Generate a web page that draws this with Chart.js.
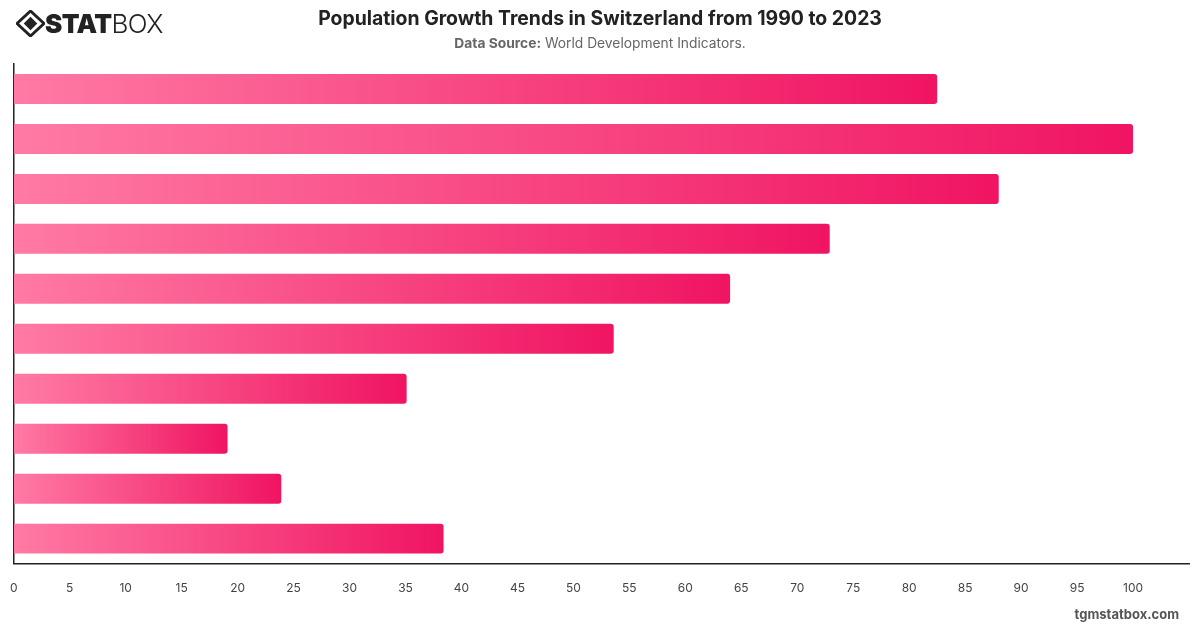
<!DOCTYPE html>
<html>
<head>
<meta charset="utf-8">
<script src="https://cdn.jsdelivr.net/npm/chart.js@4/dist/chart.umd.min.js"></script>
<style>
  body { margin: 0; background: #fff; font-family: Inter, "Liberation Sans", sans-serif; }
  #wrap { position: relative; width: 1200px; height: 628px; }
  #logo { position: absolute; left: 16px; top: 8px; display: flex; align-items: center; font-size: 26px; color: #222; letter-spacing: -0.6px; }
  #logo b { font-weight: 900; }
  #logo span { font-weight: 300; }
  #title { position: absolute; left: 0; width: 1200px; top: 6px; text-align: center; font-size: 19.4px; font-weight: 700; color: #222; }
  #sub { position: absolute; left: 0; width: 1200px; top: 35px; text-align: center; font-size: 13.8px; color: #666; }
  #sub b { font-weight: 700; }
  #foot { position: absolute; right: 21px; top: 606px; font-size: 13px; font-weight: 700; color: #555; }
  canvas { position: absolute; left: 0; top: 0; }
</style>
</head>
<body>
<div id="wrap">
  <canvas id="chart" width="1200" height="628"></canvas>
  <div id="logo">
    <svg width="29" height="27" viewBox="0 0 30 28">
      <path d="M15 1 L29 14 L15 27 L1 14 Z" fill="none" stroke="#222" stroke-width="3"/>
      <path d="M15 7 L22 14 L15 21 L8 14 Z" fill="#222"/>
    </svg>
    <b>STAT</b><span>BOX</span>
  </div>
  <div id="title">Population Growth Trends in Switzerland from 1990 to 2023</div>
  <div id="sub"><b>Data Source:</b> World Development Indicators.</div>
  <div id="foot">tgmstatbox.com</div>
</div>
<script>
const years = ["2023", "2020", "2016", "2013", "2010", "2006", "2003", "2000", "1996", "1993"];
const values = [82.5, 100, 88, 72.9, 64, 53.6, 35.1, 19.1, 23.9, 38.4];

function barGradient(context) {
  const chart = context.chart;
  const area = chart.chartArea;
  if (!area || context.raw === undefined) return "rgb(245, 60, 125)";
  const x0 = chart.scales.x.getPixelForValue(0);
  const x1 = chart.scales.x.getPixelForValue(context.raw);
  const g = chart.ctx.createLinearGradient(x0, 0, x1, 0);
  g.addColorStop(0, "rgb(255, 122, 164)");
  g.addColorStop(1, "rgb(240, 20, 98)");
  return g;
}

new Chart(document.getElementById("chart"), {
  type: "bar",
  data: {
    labels: years,
    datasets: [
      {
        data: values,
        backgroundColor: barGradient,
        borderRadius: 3,
        borderSkipped: "start",
        barPercentage: 0.6,
        categoryPercentage: 1,
      },
    ],
  },
  options: {
    indexAxis: "y",
    responsive: false,
    animation: false,
    layout: { padding: { top: 64, left: 0, right: 11, bottom: 22 } },
    plugins: { legend: { display: false }, tooltip: { enabled: false } },
    scales: {
      x: {
        min: 0,
        max: 105,
        grid: { display: false },
        border: { display: true, color: "#222", width: 1.5 },
        ticks: {
          stepSize: 5,
          padding: 10,
          color: "#444",
          font: { size: 12, family: "Inter" },
          callback: (v) => (v > 100 ? "" : v),
        },
      },
      y: {
        grid: { display: false },
        border: { display: true, color: "#222", width: 1.5 },
        ticks: { display: false },
      },
    },
  },
});
</script>
</body>
</html>
